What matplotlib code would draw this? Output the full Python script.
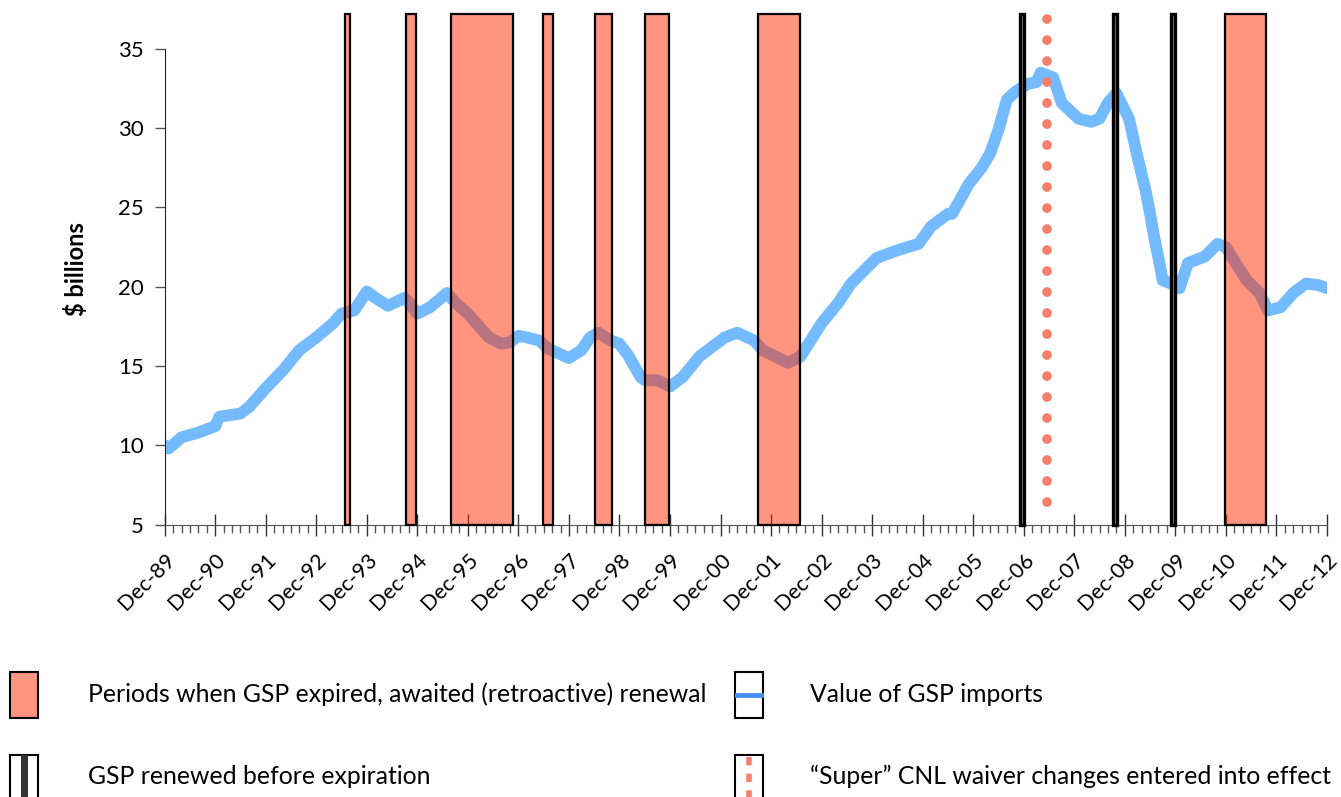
import matplotlib.pyplot as plt
from matplotlib.patches import Rectangle
from matplotlib.lines import Line2D

plt.rcParams['font.family'] = ['Lato', 'DejaVu Sans']

# months counted from Dec-1989
months = [0, 1, 4, 8, 12, 13, 18, 20, 24, 28, 32, 36, 40, 42, 45, 48, 50, 53,
          57, 58, 60, 63, 67, 69, 72, 77, 80, 82, 84, 86, 89, 91, 96, 99, 101,
          103, 106, 108, 110, 113, 114, 117, 120, 123, 127, 130, 133, 136, 140,
          142, 148, 151, 156, 160, 163, 166, 169, 174, 179, 182, 186, 187, 191,
          194, 196, 198, 200, 202, 205, 207, 208, 211, 213, 217, 220, 222, 224,
          226, 229, 231, 233, 234, 235, 236, 237, 239, 241, 243, 247, 250, 252,
          255, 257, 260, 262, 265, 268, 271, 274, 276]
imports = [10.0, 9.8, 10.5, 10.8, 11.2, 11.8, 12.0, 12.4, 13.6, 14.7, 16.0, 16.8,
           17.7, 18.3, 18.5, 19.7, 19.3, 18.8, 19.3, 19.0, 18.3, 18.7, 19.6, 19.0,
           18.3, 16.8, 16.4, 16.5, 16.9, 16.8, 16.6, 16.1, 15.5, 16.0, 16.8, 17.1,
           16.6, 16.4, 15.7, 14.3, 14.1, 14.1, 13.7, 14.3, 15.6, 16.2, 16.8, 17.1,
           16.6, 16.0, 15.2, 15.6, 17.7, 19.0, 20.2, 21.0, 21.8, 22.3, 22.7, 23.8,
           24.6, 24.6, 26.5, 27.5, 28.4, 29.9, 31.8, 32.3, 32.8, 32.9, 33.5, 33.2,
           31.6, 30.6, 30.4, 30.6, 31.6, 32.2, 30.6, 28.2, 26.0, 24.6, 23.1, 21.8,
           20.4, 20.2, 19.9, 21.5, 21.9, 22.7, 22.5, 21.2, 20.4, 19.6, 18.5, 18.7,
           19.6, 20.2, 20.1, 19.9]

# GSP lapses (start, end) in months from Dec-1989
lapse_start = [42.8, 57.4, 67.9, 89.9, 102.3, 114.1, 141.0, 251.8]
lapse_end = [44.1, 59.6, 82.6, 92.3, 106.3, 119.8, 150.9, 261.5]
# renewals before expiration
renewals = [203.6, 225.7, 239.4]
# "Super" CNL waiver change
waiver = 209.5

tick_labels = ['Dec-%02d' % (y % 100) for y in range(1989, 2013)]

fig = plt.figure(figsize=(13.41, 7.97), dpi=100)
ax = fig.add_axes([0.1228, 0.3419, 0.8667, 0.6405])

ymax = 37.2
ax.plot(months, imports, color='#74baff', lw=8.5, solid_capstyle='round',
        solid_joinstyle='round', zorder=2)

for s, e in zip(lapse_start, lapse_end):
    ax.add_patch(Rectangle((s, 5), e - s, ymax - 5, facecolor=(1, 0.17, 0, 0.5),
                           edgecolor='black', lw=1.6, zorder=3, clip_on=False))

for r in renewals:
    ax.add_patch(Rectangle((r - 0.45, 5), 0.9, ymax - 5, facecolor='#999999',
                           edgecolor='black', lw=2.4, zorder=3, clip_on=False))

ax.plot([waiver, waiver], [36.9, 6.0], color='#f4806c', lw=7,
        linestyle=(0, (0.01, 2.15)), dash_capstyle='round', zorder=4)

ax.set_xlim(0, 276)
ax.set_ylim(5, ymax)
ax.set_yticks(range(5, 40, 5))
ax.spines['left'].set_bounds(5, 35)
ax.spines['top'].set_visible(False)
ax.spines['right'].set_visible(False)
ax.spines['left'].set_color('#222222')
ax.spines['bottom'].set_color('#555555')

ax.set_xticks(range(0, 277, 12))
ax.set_xticklabels(tick_labels, rotation=45, ha='right', va='top',
                   rotation_mode='anchor', fontsize=15.5)
ax.set_xticks(range(0, 277, 2), minor=True)
ax.tick_params(axis='x', which='major', direction='inout', length=16, width=1,
               color='#333333', pad=10)
ax.tick_params(axis='x', which='minor', direction='out', length=6, width=1,
               color='#555555')
ax.tick_params(axis='y', direction='out', length=7, width=1, color='#555555',
               labelsize=16, pad=8)
ax.set_ylabel('$ billions', fontsize=17, fontweight='bold', labelpad=22)

# legend drawn by hand
W, H = 1341, 797


def box(x0, y0, w, h, **kw):
    p = Rectangle((x0 / W, 1 - (y0 + h) / H), w / W, h / H,
                  transform=fig.transFigure, clip_on=False, **kw)
    fig.patches.append(p)


box(10, 672, 28, 46, facecolor='#ff9580', edgecolor='black', lw=1.5)
box(735, 672, 28, 46, facecolor='white', edgecolor='black', lw=1.5)
fig.lines.append(Line2D([737 / W, 761 / W], [1 - 695 / H] * 2, color='#4b8ef5',
                        lw=3.5, transform=fig.transFigure))
box(10, 755, 28, 50, facecolor='white', edgecolor='black', lw=1.5)
box(21, 755, 7, 50, facecolor='#333333', edgecolor='none')
box(735, 755, 28, 50, facecolor='white', edgecolor='black', lw=1.5)
fig.lines.append(Line2D([749 / W, 749 / W], [1 - 757 / H, 0], color='#f4806c',
                        lw=4, linestyle=(0, (1.5, 1.5)), transform=fig.transFigure))

fs = 17.8
fig.text(88 / W, 1 - 694 / H, 'Periods when GSP expired, awaited (retroactive) renewal',
         fontsize=fs, va='center')
fig.text(810 / W, 1 - 694 / H, 'Value of GSP imports', fontsize=fs, va='center')
fig.text(88 / W, 1 - 776 / H, 'GSP renewed before expiration', fontsize=fs, va='center')
fig.text(810 / W, 1 - 776 / H, '\u201cSuper\u201d CNL waiver changes entered into effect',
         fontsize=fs, va='center')

fig.savefig('out.png', dpi=100)
